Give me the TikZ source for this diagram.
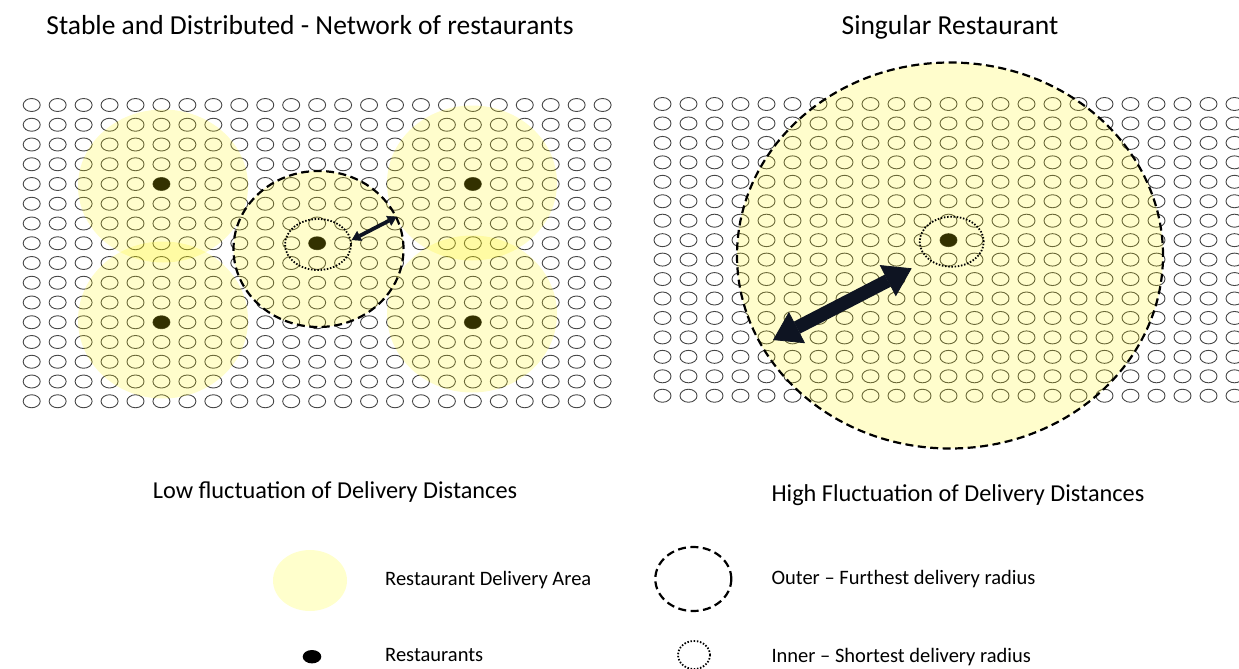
\documentclass[tikz,border=0pt]{standalone}
\usepackage{fontspec}
\setmainfont{Carlito}
\usetikzlibrary{arrows.meta,shapes.geometric}
\definecolor{zone}{RGB}{255,245,0}
\definecolor{zonekey}{RGB}{255,255,204}
\definecolor{houseline}{RGB}{70,70,70}
\definecolor{arrowink}{RGB}{14,20,34}

\tikzset{
  home/.style={draw=houseline, line width=0.9pt},
  restaurant/.style={ellipse, fill=black, inner sep=0pt, minimum width=17pt, minimum height=13pt},
  area/.style={ellipse, fill=zone, fill opacity=0.2, inner sep=0pt},
  outer/.style={ellipse, draw=black, line width=2.2pt, dash pattern=on 8pt off 4.5pt, inner sep=0pt},
  inner/.style={ellipse, draw=black, line width=1.8pt, dash pattern=on 1.5pt off 1.7pt, inner sep=0pt},
  heading/.style={font=\fontsize{27.5}{32}\selectfont, anchor=base},
  caption/.style={font=\fontsize{24.3}{29}\selectfont, anchor=base},
  keytext/.style={font=\fontsize{20.5}{24}\selectfont, anchor=base west},
  reach/.style={arrowink, line width=3.8pt, {Triangle[width=11pt,length=9pt,line width=0.5pt]}-{Triangle[width=11pt,length=9pt,line width=0.5pt]}},
  bigreach/.style={arrowink, line width=13.5pt, {Triangle[width=35pt,length=27pt,line width=0.8pt]}-{Triangle[width=35pt,length=27pt,line width=0.8pt]}}
}

\begin{document}
\begin{tikzpicture}[x=1pt, y=-1pt]
  \useasboundingbox (0,0) rectangle (1239,669);

  % Titles
  \node[heading] (tNet) at (310,35) {Stable and Distributed - Network of restaurants};
  \node[heading] (tOne) at (950,35) {Singular Restaurant};

  % Homes
  \foreach \i in {0,...,22}
    \foreach \j in {0,...,15} {
      \draw[home] (31.7+25.95*\i, 105+19.75*\j) ellipse [x radius=8.5, y radius=6.5];
      \draw[home] (662.5+26*\i, 104+19.45*\j) ellipse [x radius=8.5, y radius=6.5];
    }

  % Restaurants
  \node[restaurant] (rTL) at (161.45,184) {};
  \node[restaurant] (rTR) at (472.85,184) {};
  \node[restaurant] (rBL) at (161.45,322.25) {};
  \node[restaurant] (rBR) at (472.85,322.25) {};
  \node[restaurant] (rMid) at (317.15,243.25) {};
  \node[restaurant] (rOne) at (948.5,240.15) {};

  % Delivery areas
  \node[area, minimum width=170pt, minimum height=153pt] (aTL) at (163,186) {};
  \node[area, minimum width=170pt, minimum height=157pt] (aBL) at (163,320) {};
  \node[area, minimum width=170pt, minimum height=155pt] (aTR) at (472,183) {};
  \node[area, minimum width=170pt, minimum height=157pt] (aBR) at (472,314) {};
  \node[area, outer, minimum width=170pt, minimum height=156pt] (aMid) at (318.5,249) {};
  \node[area, outer, minimum width=426pt, minimum height=386pt] (aOne) at (950,255.5) {};

  % Shortest radius
  \node[inner, minimum width=66pt, minimum height=51pt] (iMid) at (318,244.5) {};
  \node[inner, minimum width=64pt, minimum height=50pt] (iOne) at (951.7,241.7) {};

  % Radius arrows
  \coordinate (sA) at (351.7,240);
  \coordinate (sB) at (396.7,216.7);
  \draw[reach] (sA) -- (sB);
  \coordinate (bA) at (773,340);
  \coordinate (bB) at (911.7,268.3);
  \draw[bigreach] (bA) -- (bB);

  % Captions
  \node[caption] (cLow) at (335,498) {Low fluctuation of Delivery Distances};
  \node[caption] (cHigh) at (958,501) {High Fluctuation of Delivery Distances};

  % Legend
  \node[ellipse, fill=zonekey, inner sep=0pt, minimum width=74pt, minimum height=61pt] (kArea) at (310,580.5) {};
  \node[ellipse, fill=black, inner sep=0pt, minimum width=18.6pt, minimum height=13.4pt] (kDot) at (312,656.7) {};
  \node[outer, minimum width=76pt, minimum height=64pt] (kOuter) at (693.3,579) {};
  \node[inner, minimum width=32pt, minimum height=28pt] (kInner) at (694,655) {};
  \node[keytext] (lArea) at (381.7,585) {Restaurant Delivery Area};
  \node[keytext] (lDot) at (381.7,661) {Restaurants};
  \node[keytext] (lOuter) at (768,584) {Outer – Furthest delivery radius};
  \node[keytext] (lInner) at (768,662) {Inner – Shortest delivery radius};
\end{tikzpicture}
\end{document}
